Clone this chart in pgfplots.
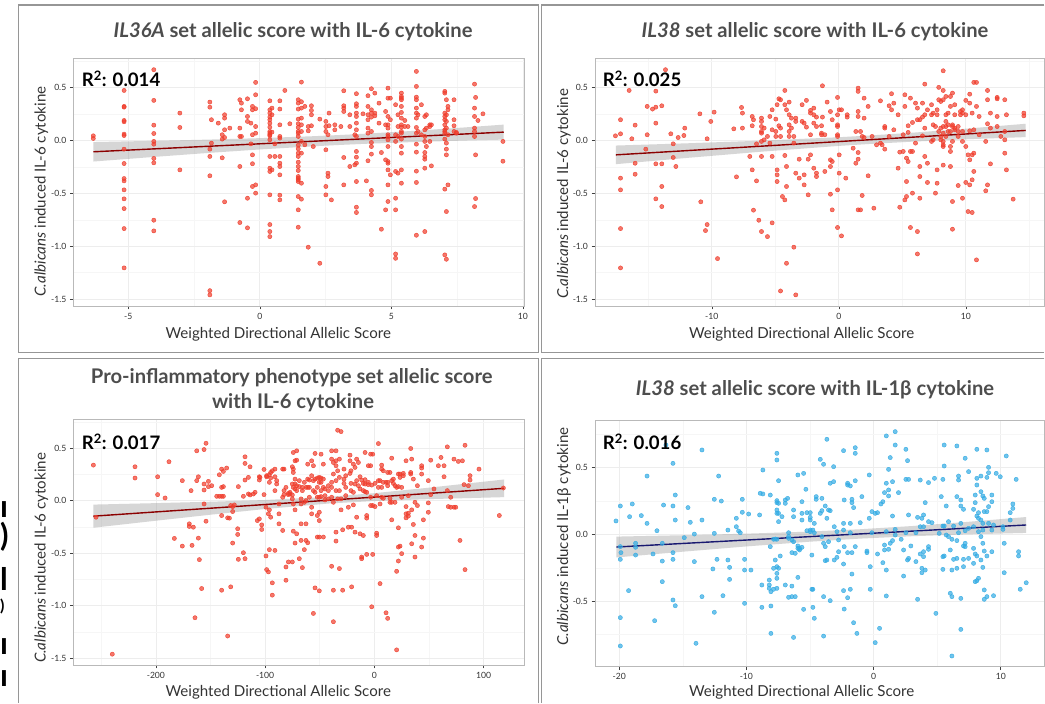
\documentclass[border=0pt]{standalone}
\usepackage{pgfplots}
\pgfplotsset{compat=1.18}
\usepackage{fontspec}
\setmainfont{Lato}

\definecolor{ptred}{RGB}{240,62,45}
\definecolor{ptblue}{RGB}{52,172,228}
\definecolor{linered}{RGB}{139,0,0}
\definecolor{lineblue}{RGB}{25,25,112}
\definecolor{bandgray}{RGB}{153,153,153}
\definecolor{boxgray}{RGB}{150,150,150}
\definecolor{titlegray}{RGB}{77,77,77}
\definecolor{labgray}{RGB}{51,51,51}

\newcommand\titlefont{\fontsize{20.2}{22}\selectfont\bfseries}
\newcommand\labfont{\fontsize{15.1}{17}\selectfont}
\newcommand\rfont{\fontsize{18.6}{21}\selectfont\bfseries}

\pgfplotsset{
  panel/.style={
    scale only axis, anchor=south west,
    axis background/.style={fill=white},
    axis line style={draw=gray!55, line width=0.8pt},
    tick align=outside, major tick length=3.5pt, minor tick length=0pt,
    xtick pos=left, ytick pos=left,
    tick style={black!75, line width=0.6pt},
    grid=both,
    major grid style={gray!14, line width=0.7pt},
    minor grid style={gray!7, line width=0.5pt},
    ticklabel style={font=\fontsize{8.6}{10}\selectfont, text=labgray},
    /pgf/number format/assume math mode=true,
    yticklabel style={/pgf/number format/.cd, fixed, fixed zerofill, precision=1},
  },
  pts/.style={only marks, mark=*, mark size=2.1pt, color=#1,
    mark options={draw=none, fill=#1, fill opacity=0.7}},
  band/.style={draw=none, fill=bandgray, fill opacity=0.4},
}

\begin{document}
\begin{tikzpicture}
\begin{scope}[x=1pt,y=1pt]
\path (0,0) rectangle (1045,704);
% panel frames
\draw[boxgray, line width=1.2pt] (18.3,699) rectangle (538.5,351.7);
\draw[boxgray, line width=1.2pt] (1044.4,699) -- (541.7,699) -- (541.7,351.7) -- (1044.4,351.7);
\draw[boxgray, line width=1.2pt] (538.5,0.6) -- (538.5,345.7) -- (18.3,345.7) -- (18.3,0.6);
\draw[boxgray, line width=1.2pt] (1044.4,345.7) -- (541.7,345.7) -- (541.7,0.6);
% ends of cut-off text lines at the left edge
\begin{scope}[every node/.style={anchor=base west, inner sep=0, font=\fontsize{31}{33}\selectfont\bfseries}]
\node at (0,704-518) {ı};
\node at (0,704-547) {)};
\node at (0,704-591) {l};
\node[font=\fontsize{16}{18}\selectfont\bfseries] at (0,704-612) {)};
\node at (0,704-655) {ı};
\node at (0,704-687) {ı};
\end{scope}
\end{scope}

% ---------- IL36A / IL-6 ----------
\begin{axis}[panel, at={(73.3pt,398pt)}, width=450.7pt, height=247.7pt,
  xmin=-7.09, xmax=10.04, ymin=-1.565, ymax=0.777,
  xtick={-5,0,5,10}, ytick={-1.5,-1,-0.5,0,0.5},
  minor xtick={-2.5,2.5,7.5}, minor ytick={-1.25,-0.75,-0.25,0.25,0.75}]
\addplot[pts=ptred] coordinates {
(-6.33,0.044)(-6.33,0.019)
(-5.16,0.473)(-5.16,0.322)(-5.16,0.315)(-5.16,0.189)(-5.16,0.177)(-5.16,0.06)(-5.16,0.047)(-5.16,-0.082)(-5.16,-0.218)(-5.16,-0.36)(-5.16,-0.382)(-5.16,-0.467)(-5.16,-0.552)(-5.16,-0.644)(-5.16,-0.833)(-5.16,-1.205)
(-4.03,0.669)(-4.03,0.379)(-4.03,0.145)(-4.03,0.066)(-4.03,-0.009)(-4.03,-0.035)(-4.03,-0.17)(-4.03,-0.211)(-4.03,-0.754)(-4.03,-0.855)
(-3.04,0.259)(-3.04,0.123)(-3.04,-0.278)
(-1.90,0.363)(-1.90,0.315)(-1.90,-0.082)(-1.90,-0.151)(-1.90,-0.334)(-1.90,-1.42)(-1.90,-1.46)
(-1.84,0.196)(-1.84,-0.025)(-1.58,0.164)
(-1.43,0.054)(-1.43,0.013)(-1.43,-0.164)
(-1.34,0.243)(-1.34,0.211)(-1.34,0.101)(-1.34,0.028)(-1.34,-0.58)
(-1.14,0.117)
(-0.76,0.385)(-0.76,0.117)(-0.76,0.038)(-0.76,-0.246)(-0.76,-0.776)
(-0.70,0.353)(-0.70,0.29)(-0.70,0.038)
(-0.47,0.394)(-0.47,0.227)(-0.47,0.18)(-0.47,-0.546)(-0.47,-0.826)
(-0.34,0.164)(-0.34,-0.032)
(-0.28,0.322)(-0.28,0.29)(-0.28,0.054)(-0.28,-0.136)(-0.28,-0.22)(-0.28,-0.435)
(-0.16,0.549)(-0.16,0.432)(-0.16,0.3)(-0.16,0.132)(-0.16,0.069)(-0.16,-0.498)(-0.16,-0.42)
(0.38,0.375)(0.38,0.29)(0.38,0.259)(0.38,0.221)(0.38,0.196)(0.38,0.164)(0.38,0.126)(0.38,0.085)(0.38,0.069)(0.38,0.054)(0.38,0.044)(0.38,0.006)(0.38,-0.151)(0.38,-0.262)(0.38,-0.293)(0.38,-0.514)(0.38,-0.795)(0.38,-0.861)(0.38,-0.909)
(0.46,0.306)(0.46,0.243)(0.46,0.079)(0.46,-0.278)
(0.57,-0.151)(0.57,-0.032)
(0.76,0.375)(0.76,0.297)(0.76,0.148)(0.76,0.038)(0.76,0.022)(0.76,-0.151)(0.76,-0.215)(0.76,-0.246)(0.76,-0.325)(0.76,-0.517)(0.76,-0.562)
(0.95,0.473)(1.14,0.158)
(1.46,0.385)(1.46,0.353)(1.46,0.297)(1.46,0.202)(1.46,0.158)(1.46,0.123)(1.46,0.085)(1.46,0.069)(1.46,0.038)(1.46,-0.044)(1.46,-0.079)(1.46,-0.12)(1.46,-0.151)(1.46,-0.205)(1.46,-0.246)(1.46,-0.284)(1.46,-0.341)(1.46,-0.356)(1.46,-0.372)(1.46,-0.388)(1.46,-0.53)(1.46,-0.656)(1.46,-0.82)
(1.58,0.552)(1.58,0.366)(1.58,0.306)(1.58,0.211)(1.58,0.148)(1.58,0.085)(1.58,-0.009)(1.58,-0.12)(1.58,-0.404)(1.58,-0.555)
(1.71,0.322)(1.71,-0.041)
(1.84,0.132)(1.84,0.091)(1.84,-1.009)
(1.96,0.328)(1.96,0.284)(1.96,0.243)(1.96,0.139)
(2.03,-0.057)(2.28,0.202)(2.28,-1.161)
(2.51,0.18)(2.51,0.132)(2.51,0.085)(2.51,-0.088)(2.51,-0.435)(2.51,-0.514)
(2.59,-0.309)(2.59,-0.341)(2.59,0.054)(2.63,0.259)(2.63,0.139)(2.72,-0.562)(2.85,0.148)(2.85,0.101)(3.08,0.132)
(3.19,0.47)(3.19,0.328)(3.19,0.306)(3.19,0.274)(3.19,-0.161)(3.19,-0.42)
(3.42,0.243)(3.42,0.132)(3.42,-0.246)(3.61,0.054)(3.61,-0.23)
(3.67,0.442)(3.67,0.347)(3.67,0.322)(3.67,0.259)(3.67,0.227)(3.67,0.164)(3.67,0.101)(3.67,0.038)(3.67,-0.104)(3.67,-0.158)(3.67,-0.215)(3.67,-0.388)(3.67,-0.631)(3.67,-0.681)
(3.92,0.252)(4.05,-0.382)
(4.11,0.423)(4.11,0.322)(4.11,0.243)(4.11,0.196)(4.11,0.117)(4.11,0.069)(4.11,-0.192)
(4.24,0.489)(4.24,0.29)(4.24,0.259)(4.24,0.221)(4.24,0.085)(4.24,-0.019)(4.24,-0.057)(4.24,-0.129)(4.24,-0.473)(4.24,-0.514)
(4.37,0.448)(4.37,0.259)(4.37,0.233)(4.53,0.353)(4.53,0.164)(4.62,-0.114)(4.62,-0.839)
(4.78,0.274)(4.78,0.148)(4.78,-0.183)(4.78,-0.656)
(4.87,0.495)(4.87,0.4)(4.87,0.227)(4.87,0.148)(4.87,0.117)(4.87,0.054)(4.87,0.038)(4.87,0.006)(4.87,-0.057)(4.87,-0.199)(4.87,-0.215)(4.87,-0.278)(4.87,-0.42)(4.87,-0.577)
(4.96,0.4)(4.96,0.196)(4.96,-0.325)
(5.16,0.338)(5.16,0.054)(5.16,-0.009)(5.16,-0.293)(5.16,-0.546)(5.16,-0.656)(5.16,-1.073)(5.16,-1.114)
(5.25,0.243)(5.25,0.132)(5.25,0.038)(5.25,-0.309)
(5.38,0.448)(5.38,0.416)(5.38,0.4)(5.38,0.385)(5.38,0.322)(5.38,0.265)(5.38,0.211)(5.38,0.148)(5.38,0.126)(5.38,0.085)(5.38,0.069)(5.38,0.013)(5.38,-0.057)(5.38,-0.12)(5.38,-0.278)(5.38,-0.404)
(5.51,0.189)(5.51,0.132)(5.63,0.132)
(5.95,0.653)(5.95,0.511)(5.95,0.41)(5.95,0.385)(5.95,0.306)(5.95,0.259)(5.95,0.211)(5.95,0.123)(5.95,0.069)(5.95,-0.035)(5.95,-0.11)(5.95,-0.29)(5.95,-0.397)(5.95,-0.896)
(6.01,0.243)(6.01,0.085)(6.14,0.338)(6.14,0.054)
(6.27,0.227)(6.27,0.101)(6.27,0.038)(6.27,-0.009)(6.27,-0.114)(6.27,-0.151)(6.27,-0.177)(6.27,-0.262)(6.27,-0.861)
(6.33,0.243)(6.33,0.117)(6.33,-0.057)(6.46,0.148)(6.46,0.132)(6.46,-0.009)(6.52,0.148)(6.52,-0.24)
(7.03,0.464)(7.03,0.448)(7.03,0.259)(7.03,0.227)(7.03,0.196)(7.03,0.148)(7.03,0.101)(7.03,0.085)(7.03,0.069)(7.03,0.013)(7.03,-0.46)(7.03,-1.082)
(7.09,0.385)(7.09,0.243)(7.09,0.18)(7.09,0.117)(7.09,-0.025)(7.09,-0.082)(7.09,-0.136)(7.09,-0.672)(7.09,-1.123)
(7.15,0.322)(7.15,0.29)(7.15,0.054)(7.15,-0.42)
(7.38,0.385)(7.38,0.196)(7.38,0.139)(7.38,0.085)(7.47,0.076)(7.47,0.069)
(8.16,0.533)(8.16,0.306)(8.16,0.227)(8.16,0.117)(8.16,0.085)(8.16,0.038)(8.16,-0.625)
(8.20,0.407)(8.20,-0.136)(8.20,-0.549)(8.29,0.189)(8.48,0.252)
(9.24,-0.009)(9.24,-0.196)
};
\addplot[band] coordinates {(-6.33,-0.015)(-4,-0.0035)(-2,0.0079)(0,0.0219)(2,0.04)(3,0.0511)(4,0.0638)(6,0.0933)(8,0.127)(9.27,0.150)
(9.27,0.0081)(8,0.0006)(6,-0.0135)(4,-0.0316)(3,-0.0427)(2,-0.0554)(0,-0.0849)(-2,-0.1185)(-4,-0.155)(-6.33,-0.199)};
\addplot[linered, line width=1.4pt] coordinates {(-6.33,-0.107)(9.27,0.079)};
\end{axis}

% ---------- IL38 / IL-6 ----------
\begin{axis}[panel, at={(595pt,398pt)}, width=449.4pt, height=247.7pt,
  xmin=-19.2, xmax=16.19, ymin=-1.565, ymax=0.777,
  xtick={-10,0,10}, ytick={-1.5,-1,-0.5,0,0.5},
  minor xtick={-15,-5,5,15}, minor ytick={-1.25,-0.75,-0.25,0.25,0.75}]
\addplot[pts=ptred] coordinates {
(-17.59,0.044)(-17.19,0.196)(-17.19,0.063)(-17.19,-0.356)(-17.19,-0.467)(-17.19,-0.833)(-17.19,-1.205)
(-16.51,0.473)(-16.30,0.016)(-16.04,0.145)(-16.04,-0.215)(-16.04,-0.319)(-15.20,-0.082)(-15.09,0.322)(-15.09,0.054)(-14.67,0.297)
(-14.41,0.467)(-14.41,0.315)(-14.41,0.164)(-14.41,-0.221)(-14.41,-0.552)
(-13.94,0.328)(-13.94,-0.221)(-13.94,-0.435)(-13.94,-0.625)(-13.65,0.669)(-13.23,0.063)(-13.04,-0.032)(-13.04,-0.161)
(-12.83,-0.246)(-12.65,0.028)(-12.20,0.047)(-12.13,0.117)(-10.94,0.252)(-10.87,-0.58)(-10.50,-0.852)(-10.37,0.016)(-10.37,-0.795)
(-10.08,0.18)(-9.82,0.268)(-9.55,-1.117)(-8.27,0.11)(-8.06,-0.344)(-7.66,0.312)(-7.59,0.259)(-7.59,0.117)(-7.01,-0.151)
(-6.82,0.227)(-6.82,0.139)(-6.82,-0.278)(-6.72,0.196)(-6.72,-0.659)(-6.48,-0.032)(-6.48,-0.382)(-6.30,-0.754)
(-6.09,0.211)(-6.09,0.18)(-6.09,0.132)(-6.09,0.085)(-6.09,0.069)(-6.09,-0.009)(-6.09,-0.151)(-6.09,-0.861)
(-5.88,0.117)(-5.88,0.006)(-5.62,0.038)(-5.62,-0.909)(-5.43,0.227)(-5.43,-0.025)(-5.25,0.29)(-5.25,0.101)(-5.25,-0.151)(-5.25,-0.779)
(-4.96,0.202)(-4.96,0.085)(-4.96,0.038)(-4.86,0.338)(-4.86,-0.278)(-4.86,-0.325)(-4.86,-0.388)(-4.72,0.394)(-4.72,0.139)
(-4.59,0.385)(-4.59,0.117)(-4.59,0.038)(-4.59,-1.423)(-4.44,-0.53)(-4.25,0.473)(-4.25,0.338)(-4.25,-0.562)(-4.25,-0.142)
(-4.12,0.29)(-4.12,-0.246)(-4.12,-1.161)(-4.12,-0.435)(-3.91,0.363)(-3.91,0.243)(-3.91,0.148)(-3.91,0.085)(-3.91,0.038)
(-3.73,0.211)(-3.73,0.117)(-3.54,-0.025)(-3.54,0.038)(-3.54,-1.009)(-3.39,0.211)(-3.39,0.18)(-3.39,-0.309)(-3.39,-1.46)
(-3.12,-0.177)(-3.12,-0.356)(-2.89,0.338)(-2.89,0.18)(-2.73,0.164)(-2.73,-0.325)(-2.73,-0.42)(-2.55,0.379)(-2.55,0.126)
(-2.41,-0.177)(-2.41,-0.514)(-2.23,0.284)(-2.23,0.259)(-2.23,0.054)(-2.23,-0.136)(-1.97,0.306)(-1.97,0.243)(-1.97,0.164)(-1.97,-0.262)
(-1.76,0.221)(-1.76,0.132)(-1.76,-0.309)(-1.76,-0.341)(-1.36,0.139)(-1.36,0.069)(-1.36,0.054)(-1.29,0.517)(-1.29,0.221)
(-1.10,-0.293)(-1.10,0.054)(-0.92,0.363)(-0.66,0.274)(-0.66,-0.183)(-0.66,-0.246)(-0.66,-0.508)(-0.52,0.196)(-0.52,-0.656)(-0.52,-0.199)
(-0.10,0.407)(-0.10,0.243)(-0.10,0.148)(-0.10,0.132)(-0.10,0.054)(-0.10,0.038)(-0.10,-0.467)(-0.10,-0.823)
(0.03,0.29)(0.03,-0.136)(0.03,-0.309)(0.21,0.29)(0.21,-0.902)(0.55,-0.356)(0.66,0.243)(0.66,0.221)(1.13,-0.073)(1.34,-0.215)(1.34,0.085)
(1.52,0.495)(1.52,0.464)(1.52,0.274)(1.52,0.227)(1.52,-0.114)(1.52,-0.177)(1.52,-0.656)(1.71,-0.656)(1.71,0.085)(1.84,0.038)(1.84,-0.52)
(1.99,0.4)(1.99,0.211)(1.99,0.028)(2.31,0.322)(2.31,-0.334)(2.62,0.038)(2.76,-0.64)(2.97,-0.041)(3.28,0.375)(3.28,-0.025)(3.41,-0.041)
(3.62,0.132)(3.62,0.117)(3.62,-0.082)(3.96,0.328)(3.96,0.038)(4.15,0.442)(4.15,0.29)(4.33,0.353)(4.33,0.101)(4.67,0.243)(4.67,-0.262)
(4.80,-0.11)(4.80,-0.631)(5.07,0.054)(5.07,-0.104)(5.20,0.432)(5.20,0.322)(5.20,-0.562)(5.33,-0.167)(5.33,-0.388)(5.33,-0.53)
(5.46,0.139)(5.46,0.076)(5.46,-0.199)(5.64,0.4)(5.64,-0.104)(5.64,-0.823)(5.80,0.17)(5.80,-0.104)(5.80,-0.498)(6.04,0.353)(6.04,-0.025)
(6.19,0.306)(6.19,0.196)(6.19,-1.073)(6.19,-0.861)(6.38,0.196)(6.38,-0.246)(6.38,-0.341)(6.38,-0.546)(6.59,0.221)(6.59,0.044)(6.59,0.353)
(6.77,0.533)(6.77,0.243)(6.77,0.117)(6.77,-0.151)(6.98,0.29)(6.98,-0.215)(6.98,-0.397)(7.30,0.338)(7.30,0.243)(7.30,-0.009)
(7.43,0.259)(7.43,0.148)(7.43,0.006)(7.61,-0.498)(7.61,0.132)(7.74,0.29)(7.74,0.243)(7.74,-0.278)(7.74,-0.404)(7.87,0.502)(7.87,0.385)(7.87,0.085)
(8.03,0.369)(8.03,0.117)(8.03,0.038)(8.03,0.006)
(8.22,0.659)(8.22,0.473)(8.22,0.385)(8.22,0.132)(8.22,0.069)(8.22,-0.009)(8.22,-0.041)(8.22,-0.057)(8.22,-0.233)
(8.43,0.416)(8.43,0.243)(8.43,0.18)(8.43,0.132)(8.43,0.038)(8.61,0.259)(8.61,0.148)(8.61,0.085)
(8.79,0.416)(8.79,0.322)(8.79,0.085)(8.79,-0.057)(8.79,-0.104)(8.79,-0.246)(8.95,0.448)(8.95,0.148)(8.95,0.132)(8.95,-0.009)(8.95,-0.577)(8.95,-0.839)
(9.13,0.338)(9.13,0.243)(9.13,0.117)(9.13,0.101)(9.40,0.132)(9.40,0.085)(9.40,0.038)(9.40,-0.426)(9.58,0.274)(9.58,0.243)
(9.74,0.29)(9.74,0.259)(9.74,0.085)(9.74,-0.009)(9.74,-0.546)(10.00,0.379)(10.00,0.243)(10.00,-0.057)(10.00,-0.397)(10.18,-0.136)(10.18,-0.672)
(10.31,0.438)(10.31,0.353)(10.31,0.091)(10.31,-0.183)(10.31,-0.42)(10.50,0.259)(10.50,-0.136)(10.50,-0.681)(10.50,-0.372)
(10.63,0.549)(10.63,0.101)(10.63,-0.12)(10.63,-0.293)(10.84,0.549)(10.84,0.322)(10.84,-1.129)(11.05,0.227)(11.05,0.054)
(11.57,-0.009)(11.57,-0.476)(11.71,0.473)(11.71,0.385)(11.71,0.158)(11.71,-0.42)(11.94,0.259)(11.94,0.117)(11.94,-0.221)
(12.47,0.407)(12.47,0.394)(12.47,0.227)(12.47,0.132)(12.76,0.038)(13.07,0.385)(13.07,0.085)(13.07,0.006)(13.07,-0.12)
(13.20,0.243)(13.20,-0.278)(13.73,-0.555)(14.57,0.259)(14.57,0.233)
};
\addplot[band] coordinates {(-17.56,-0.048)(-12,-0.027)(-6,-0.0014)(0,0.0307)(2.35,0.0465)(6,0.0751)(10,0.1113)(14.72,0.158)
(14.72,0.032)(10,0.0111)(6,-0.0099)(2.35,-0.0335)(0,-0.0513)(-6,-0.105)(-12,-0.1654)(-17.56,-0.224)};
\addplot[linered, line width=1.4pt] coordinates {(-17.56,-0.136)(14.72,0.095)};
\end{axis}

% ---------- Pro-inflammatory / IL-6 ----------
\begin{axis}[panel, at={(73.3pt,39pt)}, width=450.7pt, height=246pt,
  xmin=-275.6, xmax=137, ymin=-1.565, ymax=0.777,
  xtick={-200,-100,0,100}, ytick={-1.5,-1,-0.5,0,0.5},
  minor xtick={-250,-150,-50,50}, minor ytick={-1.25,-0.75,-0.25,0.25,0.75}]
\addplot[pts=ptred] coordinates {
(-257.2,0.338)(-254.8,-0.158)(-239.9,-1.462)(-219.1,0.322)(-219.1,0.215)(-198.4,0.227)(-198.4,0.057)(-191.6,0.025)(-188.0,0.37)(-183.1,-0.36)
(-175.8,0.19)(-175.8,-0.433)(-169.4,-0.221)(-169.4,-0.246)(-167.8,0.095)(-166.9,-0.426)(-165.7,-0.253)(-164.2,-1.115)(-162.6,0.474)(-162.6,0.19)
(-161.1,0.227)(-161.1,-0.357)(-160.2,-0.562)(-158.1,-0.837)(-155.9,0.486)(-155.9,0.158)(-155.9,0.101)(-155.9,-0.032)(-154.1,0.546)(-154.1,-0.196)
(-151.9,0.183)(-151.9,0.133)(-148.9,0.142)(-144.3,0.041)(-141.9,0.246)(-141.9,0.041)(-139.8,0.3)(-139.8,0.126)(-139.8,0.041)(-139.8,-0.142)(-139.8,-0.853)
(-138.2,0.278)(-138.2,0.133)(-138.2,0.041)(-135.2,0.31)(-134.3,-0.164)(-134.3,-1.289)(-132.7,-0.167)(-131.5,-0.821)(-131.5,-0.047)
(-129.7,-0.057)(-129.7,-0.404)(-129.7,-0.104)(-128.2,-0.041)(-125.1,-0.268)(-125.1,-0.322)(-124.5,0.133)(-124.5,-0.559)(-119.9,0.041)(-119.9,-0.496)
(-118.4,0.417)(-118.4,0.354)(-118.4,0.196)(-118.4,-0.553)(-115.3,0.221)(-115.3,0.063)(-113.8,0.322)(-113.8,0.054)(-110.8,0.063)(-109.2,0.079)
(-107.1,-0.19)(-105.3,0.227)(-105.3,0.196)(-105.3,-0.174)(-104.7,0.221)(-103.1,-0.231)(-103.1,-0.275)(-101.0,0.297)(-101.0,0.057)
(-99.2,-0.063)(-99.2,-0.527)(-98.6,0.237)(-98.6,0.227)(-98.6,-0.657)(-97.0,-0.126)(-97.0,-0.679)(-96.1,0.246)(-96.1,0.174)(-96.1,-0.467)(-96.1,-0.088)
(-94.9,0.268)(-94.9,0.215)(-94.9,-0.158)(-93.4,0.284)(-93.4,-0.783)(-93.4,-0.9)(-91.0,0.3)(-91.0,0.227)(-91.0,-0.474)(-91.0,0.095)
(-89.4,0.19)(-89.4,0.158)(-87.3,-0.032)(-87.3,-0.126)(-87.3,-0.221)(-83.9,0.3)(-83.9,0.032)(-83.9,-0.284)(-82.7,0.3)(-82.7,0.095)(-82.7,0.057)
(-80.9,0.126)(-80.9,-0.632)(-80.9,-0.758)(-78.7,0.069)(-78.7,0.057)(-78.7,-0.584)(-77.2,0.063)(-77.2,0.079)
(-75.1,0.322)(-75.1,0.158)(-75.1,0.054)(-75.1,0.016)(-75.1,-0.584)(-74.2,0.458)(-74.2,0.3)(-74.2,0.268)(-74.2,0.126)(-74.2,-0.032)(-74.2,-0.291)
(-72.6,0.379)(-72.6,0.205)(-72.6,0.158)(-72.6,0.111)(-72.6,-0.088)(-72.6,-0.404)(-71.1,0.474)(-71.1,0.385)(-71.1,0.142)(-71.1,0.095)(-71.1,-0.316)
(-68.7,0.19)(-68.7,0.133)(-68.7,-0.553)(-67.1,0.016)(-67.1,-0.032)(-67.1,-0.221)(-67.1,-0.379)(-65.9,0.126)(-65.9,0.095)(-65.9,-0.638)
(-64.1,0.174)(-64.1,-0.016)(-64.1,-0.467)(-62.6,0.126)(-62.6,0.0)(-62.6,-0.221)(-62.6,-0.379)(-61.0,0.347)(-61.0,0.205)(-61.0,0.126)(-61.0,-0.401)
(-59.5,0.196)(-59.5,0.126)(-59.5,0.032)(-57.4,0.379)(-57.4,0.237)(-57.4,-0.063)(-57.4,-0.126)(-55.8,0.332)(-55.8,0.19)(-55.8,0.095)(-55.8,-1.074)
(-54.3,0.449)(-54.3,0.205)(-54.3,0.079)(-54.3,-0.831)(-52.2,0.215)(-52.2,0.126)(-52.2,0.032)(-52.2,-0.142)(-52.2,-0.347)
(-50.4,0.221)(-50.4,0.174)(-50.4,0.032)(-50.4,-0.111)(-50.4,-0.19)(-50.4,-0.347)(-50.4,-0.859)(-48.8,0.442)(-48.8,0.215)(-48.8,0.174)(-48.8,0.095)(-48.8,0.038)
(-46.7,0.347)(-46.7,0.205)(-46.7,0.126)(-46.7,-0.347)(-45.2,0.111)(-45.2,0.047)(-45.2,0.006)(-42.1,0.142)(-42.1,0.095)(-42.1,0.016)
(-39.1,0.474)(-39.1,0.395)(-39.1,0.174)(-39.1,0.126)(-39.1,0.032)(-39.1,-0.625)(-37.5,0.363)(-37.5,0.253)(-37.5,-0.016)(-37.5,-1.153)(-37.5,-0.853)
(-35.1,0.474)(-35.1,0.379)(-35.1,0.332)(-35.1,0.19)(-35.1,0.095)(-35.1,-0.3)(-35.1,-0.385)(-33.6,0.67)(-33.6,0.284)(-33.6,0.016)
(-32.0,0.395)(-32.0,0.221)(-32.0,0.095)(-32.0,-0.647)(-30.5,0.657)(-30.5,-0.088)(-30.5,0.016)(-29.0,-0.853)(-29.0,-0.278)
(-27.8,0.3)(-27.8,0.205)(-27.8,0.164)(-26.2,0.237)(-26.2,0.126)(-26.2,0.047)(-23.8,-0.063)(-23.8,-0.253)(-22.3,0.433)(-22.3,0.379)(-22.3,0.259)
(-21.4,0.284)(-21.4,0.164)(-21.4,0.095)(-20.8,-0.821)(-20.8,-0.253)(-19.2,0.347)(-19.2,0.079)(-19.2,-0.041)(-17.7,0.316)(-17.7,0.158)(-17.7,-0.3)
(-16.2,0.395)(-16.2,0.19)(-16.2,-0.158)(-14.6,0.363)(-14.6,0.142)(-13.1,0.227)(-13.1,0.111)(-13.1,-0.316)(-11.6,0.196)(-11.6,-0.537)(-11.6,-0.553)
(-10.1,0.164)(-10.1,0.095)(-10.1,-0.332)(-8.5,0.458)(-8.5,0.199)(-8.5,0.158)(-8.5,0.085)(-7.0,0.079)(-7.0,-0.142)(-7.0,-0.167)(-7.0,-0.512)
(-5.5,0.332)(-5.5,0.174)(-5.5,0.152)(-3.4,0.442)(-3.4,0.332)(-3.4,0.032)(-3.4,-0.047)(-2.4,0.148)(-2.4,-1.011)(-1.5,0.442)(-1.5,-0.047)(-1.5,-0.512)
(0.6,0.164)(0.6,-0.057)(2.1,0.047)(2.1,-0.31)(2.1,-0.332)(3.7,0.543)(3.7,0.19)(3.7,0.126)(5.2,0.19)(5.2,-0.032)(5.2,-0.79)
(6.7,0.338)(6.7,0.3)(6.7,0.126)(6.7,0.032)(8.2,0.284)(8.2,0.174)(8.2,0.022)(10.7,0.174)(10.7,-1.068)(12.2,0.268)(12.2,0.174)(12.2,0.142)(12.2,-1.121)
(14.3,0.268)(14.3,0.022)(14.3,-0.016)(15.9,0.404)(15.9,0.19)(15.9,-0.016)(15.9,-0.183)(17.4,0.205)(17.4,0.164)(18.9,0.142)(18.9,-0.016)
(20.4,0.126)(20.4,-0.673)(20.4,-1.421)(22.0,0.253)(22.0,0.133)(22.0,-0.442)(22.0,-0.575)(22.0,-0.259)(23.5,0.253)(23.5,0.221)(23.5,-0.433)
(25.0,0.126)(25.0,0.032)(25.0,-0.505)(26.5,0.259)(26.5,0.237)(29.0,0.379)(29.0,-0.057)(29.0,-0.126)(29.0,-0.164)(31.1,0.047)(31.1,-0.12)(31.1,-0.148)
(33.3,0.496)(33.3,0.268)(33.3,0.253)(34.2,0.395)(34.2,-0.411)(34.2,-0.088)(35.7,0.205)(35.7,-0.227)(37.2,-0.016)(37.2,-0.332)(37.2,-0.537)
(39.4,0.142)(39.4,-0.047)(43.3,0.332)(43.3,0.31)(43.3,0.253)(43.3,-0.442)(44.9,-0.183)(44.9,-0.357)(49.4,0.19)(49.4,-0.022)(49.4,-0.111)
(51.6,0.385)(51.6,0.057)(54.6,0.111)(58.6,0.332)(61.0,0.411)(63.8,0.332)(63.8,0.227)(66.8,0.512)(66.8,0.095)(67.7,-0.057)
(69.9,0.032)(69.9,-0.063)(72.9,0.395)(72.9,-0.063)(74.5,-0.063)(76.9,0.373)(78.4,-0.379)(80.6,0.379)(82.1,0.152)(83.0,0.527)(83.0,-0.657)
(86.1,0.142)(87.6,0.237)(87.6,0.196)(95.8,0.3)(114.4,-0.142)(118.1,0.12)
};
\addplot[band] coordinates {(-257.2,-0.038)(-200,-0.024)(-150,-0.0106)(-100,0.0057)(-41,0.0362)(0,0.0707)(50,0.1231)(118.7,0.201)
(118.7,0.033)(50,0.0141)(0,-0.0041)(-41,-0.027)(-100,-0.0797)(-150,-0.1342)(-200,-0.1914)(-257.2,-0.258)};
\addplot[linered, line width=1.4pt] coordinates {(-257.2,-0.148)(118.7,0.117)};
\end{axis}

% ---------- IL38 / IL-1beta ----------
\begin{axis}[panel, at={(595pt,37.3pt)}, width=449.4pt, height=246pt,
  xmin=-21.9, xmax=13.43, ymin=-0.99, ymax=0.85,
  xtick={-20,-10,0,10}, ytick={-0.5,0,0.5},
  minor xtick={-15,-5,5}, minor ytick={-0.75,-0.25,0.25,0.75}]
\addplot[pts=ptblue] coordinates {
(-20.25,0.1)(-19.91,0.212)(-19.91,-0.092)(-19.91,-0.187)(-19.91,-0.623)(-19.91,-0.835)(-19.86,-0.137)(-19.26,-0.421)(-19.18,0.132)(-18.97,0.227)
(-18.71,-0.067)(-18.71,-0.097)(-18.71,-0.155)(-18.26,0.14)(-17.81,0.082)(-17.81,0.436)(-17.34,-0.147)(-17.21,-0.646)(-17.03,0.027)
(-16.61,-0.067)(-16.61,-0.2)(-16.61,-0.354)(-16.51,0.219)(-16.32,0.668)(-15.77,0.531)(-15.77,0.212)(-15.77,-0.137)(-15.77,-0.187)(-15.77,-0.491)
(-15.59,0.107)(-15.59,0.294)(-15.59,-0.534)(-14.88,-0.025)(-14.59,0.2)(-14.41,0.09)(-14.09,0.002)(-14.09,-0.204)(-13.96,-0.815)
(-13.49,0.107)(-13.49,0.631)(-13.49,-0.466)(-12.63,-0.259)(-12.52,0.262)(-12.52,0.007)(-12.52,-0.583)(-12.31,-0.187)(-12.18,0.436)(-11.97,0.249)
(-11.84,-0.459)(-11.45,0.032)(-11.45,-0.192)(-11.32,-0.337)(-11.32,-0.247)(-10.79,0.12)(-10.79,0.057)(-10.61,0.025)(-10.48,0.012)(-10.32,0.262)(-10.32,0.165)
(-10.14,-0.187)(-10.14,-0.267)(-10.14,-0.516)(-9.82,0.152)(-9.64,-0.267)(-8.96,0.145)(-8.91,0.307)(-8.78,-0.379)(-8.78,-0.546)(-8.70,0.481)(-8.70,0.302)
(-8.2,-0.342)(-8.2,-0.379)(-8.2,-0.404)(-8.12,0.294)(-8.12,-0.092)(-8.07,-0.429)(-8.07,-0.536)(-8.07,-0.741)(-7.86,-0.037)(-7.86,-0.411)(-7.86,-0.254)
(-7.73,-0.035)(-7.73,-0.192)(-7.60,0.606)(-7.60,0.556)(-7.60,0.252)(-7.60,0.237)(-7.60,0.182)(-7.60,0.157)(-7.60,-0.037)(-7.60,-0.242)(-7.60,-0.292)(-7.60,-0.329)(-7.60,-0.404)
(-7.47,0.401)(-7.47,0.232)(-7.47,0.157)(-7.47,0.095)(-7.47,-0.254)(-7.34,-0.162)(-7.20,0.132)(-6.94,0.257)(-6.94,0.232)(-6.94,-0.379)(-6.76,0.269)
(-6.68,0.012)(-6.68,-0.017)(-6.68,-0.03)(-6.68,-0.471)(-6.42,-0.042)(-6.42,-0.137)(-6.42,-0.387)(-6.42,-0.466)(-6.29,0.182)(-6.29,0.132)(-6.29,-0.055)(-6.29,-0.771)
(-6.16,-0.142)(-6.16,-0.466)(-5.95,0.444)(-5.95,-0.087)(-5.95,-0.105)(-5.95,-0.322)(-5.82,-0.105)(-5.82,-0.117)(-5.63,0.244)(-5.63,0.157)(-5.63,0.107)(-5.63,-0.097)
(-5.5,0.456)(-5.5,-0.561)(-5.32,0.337)(-5.24,0.162)(-5.24,0.027)(-4.98,0.162)(-4.98,0.127)(-4.98,0.107)(-4.98,0.032)(-4.98,0.02)(-4.85,-0.155)(-4.85,-0.411)
(-4.77,0.032)(-4.77,-0.411)(-4.77,-0.546)(-4.66,0.082)(-4.66,0.012)(-4.66,-0.628)(-4.51,0.282)(-4.51,0.262)(-4.19,0.561)(-4.19,0.157)(-4.06,0.177)(-4.06,0.269)(-4.06,-0.017)
(-3.93,0.524)(-3.93,-0.067)(-3.93,-0.466)(-3.93,-0.761)(-3.80,0.212)(-3.80,-0.197)(-3.80,-0.092)(-3.67,0.711)(-3.67,0.12)(-3.67,-0.192)(-3.54,-0.055)(-3.54,0.182)
(-3.41,0.382)(-3.41,0.177)(-3.41,-0.496)(-3.14,0.506)(-3.14,0.394)(-3.09,0.057)(-3.09,-0.192)(-2.88,0.02)(-2.88,-0.172)(-2.75,-0.042)(-2.75,-0.13)
(-2.36,0.626)(-2.36,0.082)(-2.36,0.032)(-2.36,-0.421)(-2.36,-0.222)(-2.31,0.257)(-2.31,-0.559)(-2.31,-0.092)(-2.04,0.382)(-2.04,0.369)(-2.04,-0.137)(-2.04,-0.474)
(-1.83,0.362)(-1.83,0.082)(-1.83,-0.411)(-1.83,0.012)(-1.70,0.262)(-1.70,0.237)(-1.70,-0.137)(-1.70,-0.297)(-1.57,-0.661)(-1.57,0.2)
(-1.44,0.648)(-1.44,0.606)(-1.44,0.401)(-1.44,-0.092)(-1.31,-0.741)(-1.05,0.087)(-0.92,0.282)(-0.52,-0.125)(-0.52,-0.137)(-0.34,0.444)(-0.34,0.12)
(-0.26,-0.411)(-0.26,-0.242)(-0.13,0.17)(-0.13,0.012)(0.13,-0.81)(0.13,0.157)(0.31,0.162)(0.31,-0.147)(0.47,-0.703)(0.58,0.227)(0.73,0.244)(0.73,-0.212)
(0.86,0.312)(0.86,-0.08)(0.86,-0.117)(1.00,0.736)(1.00,0.382)(1.00,0.02)(1.00,-0.267)(1.00,-0.461)(1.18,0.486)(1.18,0.332)(1.18,0.287)(1.18,-0.112)
(1.31,0.574)(1.31,-0.067)(1.49,0.394)(1.49,0.137)(1.49,-0.047)(1.70,0.768)(1.70,0.668)(1.70,0.037)(1.70,-0.005)(1.96,0.312)(2.17,-0.037)
(2.36,-0.117)(2.36,-0.312)(2.54,0.636)(2.54,0.411)(2.54,0.012)(2.67,0.551)(2.67,-0.192)(2.75,0.145)(2.75,0.411)(2.75,-0.18)(2.93,-0.087)
(3.33,0.012)(3.33,-0.204)(3.46,0.127)(3.46,-0.486)(3.67,0.406)(3.67,0.057)(3.67,-0.147)(3.80,0.12)(3.80,-0.254)(3.80,-0.287)
(3.93,0.145)(3.93,0.057)(3.93,-0.167)(3.93,-0.13)(4.06,0.237)(4.06,-0.267)(4.32,0.095)(4.32,0.387)(4.32,-0.092)(4.32,-0.112)(4.59,0.087)(4.79,0.419)(4.90,-0.591)
(5.16,0.007)(5.32,0.282)(5.45,0.411)(5.45,0.062)(5.45,-0.167)(5.45,-0.262)(5.55,0.668)(5.55,0.511)(5.55,0.062)(5.55,-0.162)(5.71,0.212)(5.71,-0.005)
(5.89,-0.017)(5.89,0.095)(6.03,-0.441)(6.03,-0.117)(6.16,-0.037)(6.16,-0.91)(6.16,-0.466)(6.16,-0.267)(6.29,0.062)(6.29,-0.187)
(6.55,0.661)(6.55,0.282)(6.55,-0.047)(6.55,-0.18)(6.55,-0.254)(6.68,0.436)(6.68,0.406)(6.68,0.012)(6.86,0.257)(6.86,0.212)(6.86,0.082)(6.86,-0.479)(6.86,-0.711)
(7.07,-0.187)(7.07,-0.242)(7.07,0.187)(7.07,-0.087)(7.2,0.569)(7.2,0.027)(7.2,-0.067)(7.2,-0.092)(7.47,0.469)(7.47,0.045)(7.47,-0.18)
(7.86,0.187)(7.86,0.057)(7.86,-0.105)(7.86,-0.217)(7.99,0.294)(7.99,0.237)(7.99,-0.147)(7.99,-0.354)
(8.12,0.636)(8.12,0.419)(8.12,0.369)(8.12,0.137)(8.12,-0.162)(8.12,-0.347)(8.25,0.162)(8.25,0.12)(8.25,0.02)(8.25,-0.329)
(8.44,0.436)(8.44,0.319)(8.44,0.107)(8.44,-0.017)(8.44,-0.192)(8.59,0.287)(8.59,0.082)(8.59,0.032)(8.59,-0.067)(8.59,-0.247)
(8.70,0.269)(8.70,0.17)(8.70,-0.125)(8.70,-0.416)(8.70,-0.486)(8.91,0.631)(8.91,0.426)(8.91,0.17)(8.91,-0.162)(8.91,-0.466)
(9.04,0.501)(9.04,0.461)(9.04,0.207)(9.04,0.082)(9.30,0.294)(9.30,0.244)(9.30,0.032)(9.30,-0.13)(9.43,0.07)(9.43,-0.459)(9.64,0.456)(9.96,0.431)
(10.17,0.057)(10.17,0.037)(10.27,-0.067)(10.27,-0.287)(10.43,0.586)(10.74,0.162)(10.74,0.107)(10.95,0.227)(10.95,0.194)(11.21,0.411)
(11.40,-0.13)(11.40,-0.162)(11.53,-0.411)(12.0,-0.362)
};
\addplot[band] coordinates {(-20.22,-0.017)(-15,-0.0067)(-10,0.005)(-5,0.0207)(-1.07,0.038)(3,0.0619)(7,0.0901)(12,0.1294)
(12,0.0106)(7,-0.0013)(3,-0.0141)(-1.07,-0.032)(-5,-0.0549)(-10,-0.0904)(-15,-0.1299)(-20.22,-0.173)};
\addplot[lineblue, line width=1.4pt] coordinates {(-20.22,-0.095)(12,0.07)};
\end{axis}

\begin{scope}[x=1pt,y=1pt, every node/.style={inner sep=0, anchor=base}]
% titles
\node[font=\titlefont, text=titlegray] at (293,666.7) {\textit{IL36A} set allelic score with IL-6 cytokine};
\node[font=\titlefont, text=titlegray] at (815,666.7) {\textit{IL38} set allelic score with IL-6 cytokine};
\node[font=\titlefont, text=titlegray] at (291.7,320.7) {Pro-inflammatory phenotype set allelic score};
\node[font=\titlefont, text=titlegray] at (293,295) {with IL-6 cytokine};
\node[font=\titlefont, text=titlegray] at (815,308) {\textit{IL38} set allelic score with IL-1β cytokine};
% axis titles
\node[font=\labfont, text=labgray] at (278.3,365.7) {Weighted Directional Allelic Score};
\node[font=\labfont, text=labgray] at (801.7,365.7) {Weighted Directional Allelic Score};
\node[font=\labfont, text=labgray] at (278.3,7.3) {Weighted Directional Allelic Score};
\node[font=\labfont, text=labgray] at (801.7,7.3) {Weighted Directional Allelic Score};
\node[font=\labfont, text=labgray, rotate=90] at (45.5,512.5) {\textit{C.albicans} induced IL-6 cytokine};
\node[font=\labfont, text=labgray, rotate=90] at (568,510) {\textit{C.albicans} induced IL-6 cytokine};
\node[font=\labfont, text=labgray, rotate=90] at (45.5,146) {\textit{C.albicans} induced IL-6 cytokine};
\node[font=\labfont, text=labgray, rotate=90] at (568,167.3) {\textit{C.albicans} induced IL-1β cytokine};
% R squared
\node[font=\rfont, anchor=base west] at (81.7,617.3) {R\textsuperscript{2}: 0.014};
\node[font=\rfont, anchor=base west] at (602.7,617.3) {R\textsuperscript{2}: 0.025};
\node[font=\rfont, anchor=base west] at (81.7,254) {R\textsuperscript{2}: 0.017};
\node[font=\rfont, anchor=base west] at (602.7,254) {R\textsuperscript{2}: 0.016};
\end{scope}
\end{tikzpicture}
\end{document}
